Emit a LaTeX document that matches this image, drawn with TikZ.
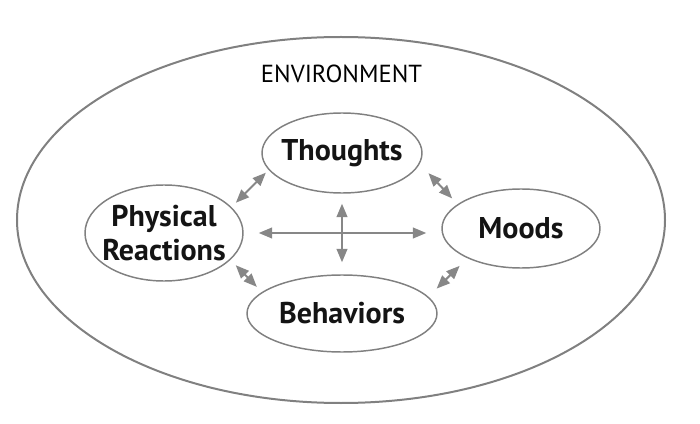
\documentclass[tikz,border=0pt]{standalone}
\usepackage{fontspec}
\setmainfont{PT Sans}
\usetikzlibrary{shapes.geometric,arrows.meta}

\definecolor{ringgray}{RGB}{128,128,128}
\definecolor{arrowgray}{RGB}{135,135,135}

\tikzset{
  bubble/.style={ellipse, draw=ringgray, line width=1.1pt, inner sep=0pt},
  bubbletext/.style={font=\fontsize{22.5}{25.5}\selectfont\bfseries, text=black!92, align=center},
  twoway/.style={{Triangle[length=10pt,width=8pt]}-{Triangle[length=10pt,width=8pt]},
    draw=arrowgray, line width=1.5pt}
}

\begin{document}
\begin{tikzpicture}[x=0.75pt,y=0.75pt,yscale=-1,xscale=1]
    \useasboundingbox (0,0) rectangle (700,424);
    %Shape: Ellipse [id:env]
    \node [ellipse, draw=ringgray, line width=1.5pt, minimum width=486pt, minimum height=274.5pt] (env) at (341,220) {};
    % Text Node
    \node [font=\fontsize{18.5}{21}\selectfont, text=black] (envtext) at (341.5,73.5) {ENVIRONMENT};
    %Shape: Ellipse [id:thoughts]
    \node [bubble, minimum width=120pt, minimum height=60pt, label={[bubbletext]center:Thoughts}] (thoughts) at (342,153) {};
    %Shape: Ellipse [id:physical]
    \node [bubble, minimum width=118.5pt, minimum height=72pt, label={[bubbletext]center:{Physical\\Reactions}}] (physical) at (164,233) {};
    %Shape: Ellipse [id:behaviors]
    \node [bubble, minimum width=142.5pt, minimum height=57.75pt, label={[bubbletext]center:Behaviors}] (behaviors) at (342,313.5) {};
    %Shape: Ellipse [id:moods]
    \node [bubble, minimum width=118.5pt, minimum height=59.25pt, label={[bubbletext]center:Moods}] (moods) at (521,228.5) {};
    %Straight Lines [id:cross]
    \draw [twoway, shorten <=11.25pt, shorten >=11.25pt] (physical.east) -- (physical.east -| moods.west) ;
    \draw [twoway, shorten <=7.5pt, shorten >=9pt] (thoughts.south) -- (behaviors.north) ;
    %Straight Lines [id:diagonals]
    \draw [twoway, shorten <=4.6pt, shorten >=2.9pt] (physical.21) -- (thoughts.193) ;
    \draw [twoway, shorten <=9.5pt, shorten >=5.9pt] (thoughts.352) -- (moods.159) ;
    \draw [twoway, shorten <=5.6pt, shorten >=5.4pt] (physical.338) -- (behaviors.165) ;
    \draw [twoway, shorten <=8.6pt, shorten >=8.1pt] (behaviors.11) -- (moods.209) ;
\end{tikzpicture}
\end{document}
